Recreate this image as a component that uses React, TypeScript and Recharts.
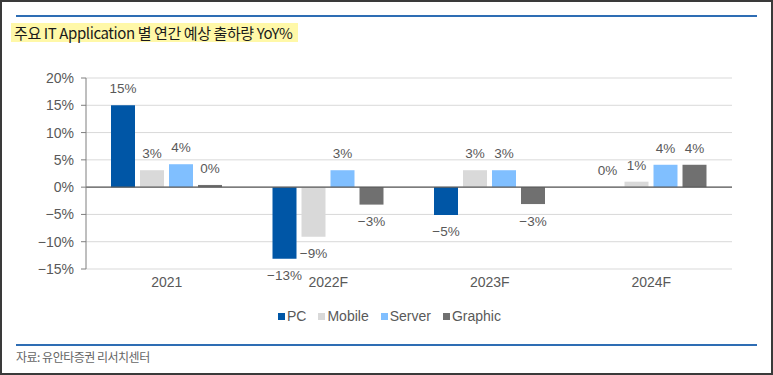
import { BarChart, Bar, XAxis, YAxis, CartesianGrid, ReferenceLine, LabelList } from 'recharts'

const years = ['2021', '2022F', '2023F', '2024F']
const pc = [15, -13.1, -5.1, 0]
const mobile = [3.1, -9.1, 3.1, 1.0]
const server = [4.2, 3.1, 3.1, 4.1]
const graphic = [0.4, -3.2, -3.1, 4.1]
const yTicks = [-15, -10, -5, 0, 5, 10, 15, 20]

const series = [
  { key: 'pc', name: 'PC', color: '#0056a6', values: pc },
  { key: 'mobile', name: 'Mobile', color: '#d9d9d9', values: mobile },
  { key: 'server', name: 'Server', color: '#80bfff', values: server },
  { key: 'graphic', name: 'Graphic', color: '#707070', values: graphic },
]

const data = years.map((year, i) => {
  const row: Record<string, string | number> = { year }
  series.forEach((s) => (row[s.key] = s.values[i]))
  return row
})

const FONT = '"Liberation Sans", Arial, sans-serif'
const KFONT = '"Noto Sans CJK KR", "Noto Sans", sans-serif'
const GRAY = '#595959'

const pct = (v: number) => (v < 0 ? '\u2212' + Math.abs(v) + '%' : v + '%')

// data label outside the bar end: above for positive, below for negative
function renderLabel(props: any) {
  const { x, y, width, height, value } = props
  const v = Number(value)
  const top = Math.min(y, y + height)
  const bottom = Math.max(y, y + height)
  const r = Math.round(v)
  return (
    <text
      x={x + width / 2}
      y={v >= 0 ? top - 16.5 : bottom + 17}
      textAnchor="middle"
      dominantBaseline="central"
      fontSize={13.5}
      fontFamily={FONT}
      fill={GRAY}
    >
      {pct(r === 0 ? 0 : r)}
    </text>
  )
}

export default function App() {
  return (
    <div style={{ position: 'absolute', left: 0, top: 0, width: 773, height: 375, background: '#fff', overflow: 'hidden' }}>
      <div style={{ position: 'absolute', left: 16, top: 15, width: 741, height: 2, background: '#2e6db4' }} />
      <div
        style={{
          position: 'absolute',
          left: 11,
          top: 23,
          height: 19,
          padding: '0 5px 0 3px',
          background: '#fff8a8',
          fontFamily: KFONT,
          fontSize: 15,
          lineHeight: '19px',
          color: '#1a1a1a',
          letterSpacing: -0.4,
          whiteSpace: 'nowrap',
        }}
      >
        주요 IT Application 별 연간 예상 출하량 YoY%
      </div>

      <div style={{ position: 'absolute', left: 0, top: 0 }}>
        <BarChart
          width={773}
          height={300}
          data={data}
          margin={{ top: 78, right: 41, bottom: 0, left: 0 }}
          barSize={24}
          barGap={5}
        >
          <CartesianGrid vertical={false} stroke="#d9d9d9" />
          <XAxis
            dataKey="year"
            height={31}
            axisLine={false}
            tickLine={false}
            tick={{ fill: GRAY, fontSize: 14, fontFamily: FONT }}
          />
          <YAxis
            width={86}
            domain={[-15, 20]}
            ticks={yTicks}
            interval={0}
            tickFormatter={pct}
            tick={{ fill: GRAY, fontSize: 14, fontFamily: FONT }}
            axisLine={{ stroke: '#7f7f7f' }}
            tickLine={{ stroke: '#7f7f7f' }}
            tickSize={5}
            tickMargin={7}
          />
          <ReferenceLine y={0} stroke={GRAY} strokeWidth={1.2} />
          {series.map((s) => (
            <Bar
              key={s.key}
              dataKey={s.key}
              name={s.name}
              fill={s.color}
              minPointSize={0.01}
              isAnimationActive={false}
            >
              <LabelList dataKey={s.key} content={renderLabel} />
            </Bar>
          ))}
        </BarChart>
      </div>

      <div
        style={{
          position: 'absolute',
          left: 278,
          top: 308,
          display: 'flex',
          alignItems: 'center',
          gap: 12,
          fontFamily: FONT,
          fontSize: 14,
          color: GRAY,
          whiteSpace: 'nowrap',
        }}
      >
        {series.map((s) => (
          <div key={s.key} style={{ display: 'flex', alignItems: 'center', gap: 2 }}>
            <div style={{ width: 7, height: 7, background: s.color }} />
            <span>{s.name}</span>
          </div>
        ))}
      </div>

      <div style={{ position: 'absolute', left: 16, top: 344, width: 741, height: 2, background: '#2e6db4' }} />
      <div
        style={{
          position: 'absolute',
          left: 16,
          top: 349,
          fontFamily: KFONT,
          fontSize: 12,
          lineHeight: '16px',
          color: '#666',
          letterSpacing: -0.5,
          whiteSpace: 'nowrap',
        }}
      >
        자료: 유안타증권 리서치센터
      </div>

      <div style={{ position: 'absolute', inset: 0, border: '2px solid #3a3a3a', boxSizing: 'border-box', pointerEvents: 'none' }} />
    </div>
  )
}
